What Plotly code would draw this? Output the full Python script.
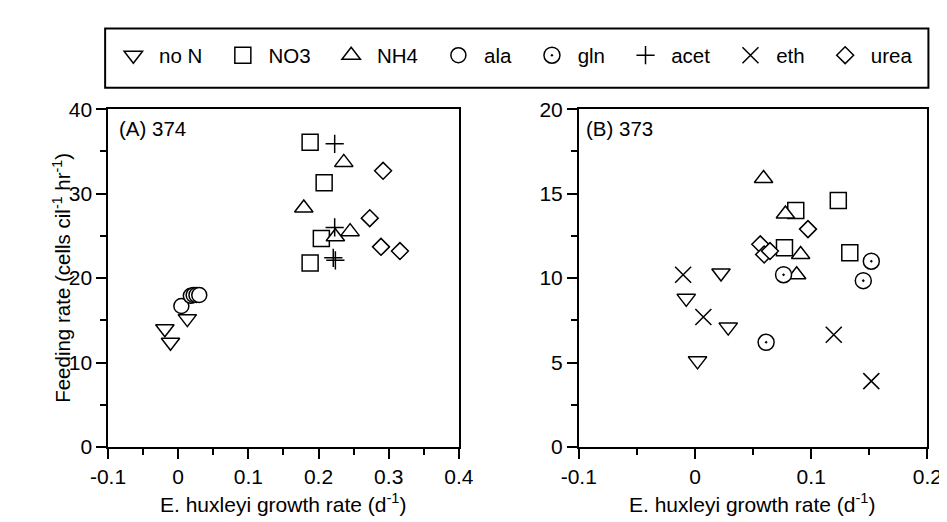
import plotly.graph_objects as go

# ---------------- data ----------------
# Panel A (isolate 374)
a_noN_x = [-0.019, -0.011, 0.013]
a_noN_y = [14.0, 12.4, 15.2]
a_NO3_x = [0.188, 0.208, 0.204, 0.188]
a_NO3_y = [36.1, 31.3, 24.7, 21.8]
a_NH4_x = [0.236, 0.179, 0.245, 0.224]
a_NH4_y = [33.7, 28.3, 25.5, 24.9]
a_ala_x = [0.0045, 0.018, 0.022, 0.026, 0.030]
a_ala_y = [16.7, 17.9, 18.0, 18.0, 18.0]
a_acet_x = [0.223, 0.223, 0.221, 0.224]
a_acet_y = [35.9, 26.0, 22.4, 22.1]
a_urea_x = [0.292, 0.273, 0.289, 0.316]
a_urea_y = [32.7, 27.1, 23.7, 23.2]

# Panel B (isolate 373)
b_noN_x = [0.0224, -0.0075, 0.0286, 0.0022]
b_noN_y = [10.3, 8.8, 7.1, 5.1]
b_NO3_x = [0.1233, 0.0867, 0.077, 0.1332]
b_NO3_y = [14.6, 14.0, 11.8, 11.5]
b_NH4_x = [0.059, 0.0778, 0.0909, 0.0875]
b_NH4_y = [15.9, 13.8, 11.4, 10.2]
b_gln_x = [0.1517, 0.0762, 0.1448, 0.0612]
b_gln_y = [11.0, 10.2, 9.85, 6.2]
b_eth_x = [-0.0102, 0.0072, 0.1194, 0.1517]
b_eth_y = [10.2, 7.7, 6.65, 3.9]
b_urea_x = [0.0972, 0.0562, 0.0595, 0.0645]
b_urea_y = [12.9, 12.0, 11.4, 11.6]

xa_ticks = [-0.1, 0, 0.1, 0.2, 0.3, 0.4]
xa_labels = ["-0.1", "0", "0.1", "0.2", "0.3", "0.4"]
xb_ticks = [-0.1, 0, 0.1, 0.2]
xb_labels = ["-0.1", "0", "0.1", "0.2"]
ya_ticks = [0, 10, 20, 30, 40]
yb_ticks = [0, 5, 10, 15, 20]

FONT = "Liberation Sans, Arial, sans-serif"
BLACK = "black"
LW = 1.5
NB = "\u00a0"
THIN = "\u2009"

fig = go.Figure()


def add(name, x, y, symbol, size, xaxis, yaxis, showlegend, filled=True):
    fig.add_trace(go.Scatter(
        x=x, y=y, mode="markers", name=NB + name + NB * 2 + THIN, legendgroup=name,
        showlegend=showlegend, xaxis=xaxis, yaxis=yaxis,
        marker=dict(symbol=symbol, size=size,
                    color="white" if filled else BLACK,
                    line=dict(color=BLACK, width=LW)),
        hovertemplate=name + ": (%{x}, %{y})<extra></extra>",
    ))


add("no N", a_noN_x, a_noN_y, "triangle-down", 16, "x", "y", True)
add("no N", b_noN_x, b_noN_y, "triangle-down", 16, "x2", "y2", False)
add("NO3", a_NO3_x, a_NO3_y, "square", 16, "x", "y", True)
add("NO3", b_NO3_x, b_NO3_y, "square", 16, "x2", "y2", False)
add("NH4", a_NH4_x, a_NH4_y, "triangle-up", 16, "x", "y", True)
add("NH4", b_NH4_x, b_NH4_y, "triangle-up", 16, "x2", "y2", False)
add("ala", a_ala_x, a_ala_y, "circle", 15, "x", "y", True)
add("gln", b_gln_x, b_gln_y, "circle-dot", 16, "x2", "y2", True)
add("acet", a_acet_x, a_acet_y, "cross-thin", 13, "x", "y", True, filled=False)
add("eth", b_eth_x, b_eth_y, "x-thin", 16, "x2", "y2", True, filled=False)
add("urea", a_urea_x, a_urea_y, "diamond", 13, "x", "y", True)
add("urea", b_urea_x, b_urea_y, "diamond", 13, "x2", "y2", False)

W, H = 947, 522
yd = [1 - 446.7 / H, 1 - 93.3 / H]

axis_common = dict(showline=True, mirror=True, linecolor=BLACK, linewidth=LW,
                   ticks="outside", ticklen=10, tickwidth=LW, tickcolor=BLACK,
                   showgrid=False, zeroline=False,
                   tickfont=dict(family=FONT, size=21, color=BLACK))

fig.update_layout(
    width=W, height=H,
    margin=dict(l=0, r=0, t=0, b=0),
    paper_bgcolor="white", plot_bgcolor="white",
    font=dict(family=FONT, size=20, color=BLACK),
    xaxis=dict(domain=[85 / W, 448.5 / W], range=[-0.1, 0.4],
               tickvals=xa_ticks, ticktext=xa_labels,
               minor=dict(dtick=0.05, tick0=0, ticks="outside", ticklen=6,
                          tickwidth=LW, tickcolor=BLACK, showgrid=False),
               anchor="y", **axis_common),
    yaxis=dict(domain=yd, range=[0, 40], tickvals=ya_ticks,
               minor=dict(dtick=5, tick0=0, ticks="outside", ticklen=6,
                          tickwidth=LW, tickcolor=BLACK, showgrid=False),
               anchor="x", **axis_common),
    xaxis2=dict(domain=[572.7 / W, 934 / W], range=[-0.1, 0.2],
                tickvals=xb_ticks, ticktext=xb_labels,
                minor=dict(dtick=0.05, tick0=0, ticks="outside", ticklen=6,
                           tickwidth=LW, tickcolor=BLACK, showgrid=False),
                anchor="y2", **axis_common),
    yaxis2=dict(domain=yd, range=[0, 20], tickvals=yb_ticks,
                minor=dict(dtick=2.5, tick0=0, ticks="outside", ticklen=6,
                           tickwidth=LW, tickcolor=BLACK, showgrid=False),
                anchor="x2", **axis_common),
    legend=dict(orientation="h", x=90.5 / W, xanchor="left",
                y=1 - 37 / H, yanchor="middle",
                font=dict(family=FONT, size=20.5, color=BLACK),
                bgcolor="rgba(0,0,0,0)", borderwidth=0),
    shapes=[dict(type="rect", xref="paper", yref="paper",
                 x0=82 / W, x1=935 / W, y0=1 - 71 / H, y1=1 - 9 / H,
                 line=dict(color=BLACK, width=2), fillcolor="rgba(0,0,0,0)")],
    annotations=[
        dict(text="(A) 374", xref="paper", yref="paper", x=94 / W, y=1 - 113 / H,
             xanchor="left", yanchor="middle", showarrow=False,
             font=dict(family=FONT, size=20.5, color=BLACK)),
        dict(text="(B) 373", xref="paper", yref="paper", x=578 / W, y=1 - 113 / H,
             xanchor="left", yanchor="middle", showarrow=False,
             font=dict(family=FONT, size=20.5, color=BLACK)),
        dict(text="E. huxleyi growth rate (d<sup>-1</sup>)", xref="paper", yref="paper",
             x=267 / W, y=1 - 505 / H, xanchor="center", yanchor="middle",
             showarrow=False, font=dict(family=FONT, size=21, color=BLACK)),
        dict(text="E. huxleyi growth rate (d<sup>-1</sup>)", xref="paper", yref="paper",
             x=753 / W, y=1 - 505 / H, xanchor="center", yanchor="middle",
             showarrow=False, font=dict(family=FONT, size=21, color=BLACK)),
        dict(text="Feeding rate (cells cil<sup>-1</sup> hr<sup>-1</sup>)", xref="paper",
             yref="paper", x=37 / W, y=1 - 270 / H, xanchor="center", yanchor="middle",
             textangle=-90, showarrow=False,
             font=dict(family=FONT, size=20.5, color=BLACK)),
    ],
)

fig.write_html("out.html")
